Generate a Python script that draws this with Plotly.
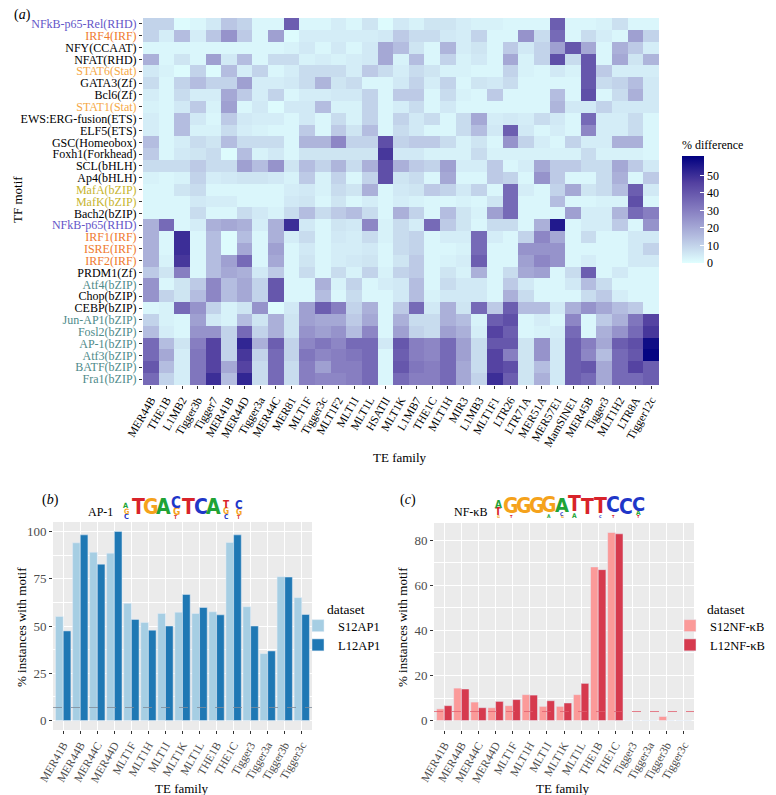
import plotly.graph_objects as go

# ---- data -------------------------------------------------------------
te_families = ["MER44B", "THE1B", "L1MB2", "Tigger3b", "Tigger7", "MER41B", "MER44D",
               "Tigger3a", "MER44C", "MER81", "MLT1F", "Tigger3c", "MLT1F2", "MLT1I",
               "MLT1L", "HSATII", "MLT1K", "L1MB7", "THE1C", "MLT1H", "MIR3", "L1MB3",
               "MLT1F1", "LTR26", "LTR71A", "MER51A", "MER57E1", "MamSINE1", "MER45B",
               "Tigger3", "MLT1H2", "LTR8A", "Tigger12c"]

tf_motifs = ["NFkB-p65-Rel(RHD)", "IRF4(IRF)", "NFY(CCAAT)", "NFAT(RHD)", "STAT6(Stat)",
             "GATA3(Zf)", "Bcl6(Zf)", "STAT1(Stat)", "EWS:ERG-fusion(ETS)", "ELF5(ETS)",
             "GSC(Homeobox)", "Foxh1(Forkhead)", "SCL(bHLH)", "Ap4(bHLH)", "MafA(bZIP)",
             "MafK(bZIP)", "Bach2(bZIP)", "NFkB-p65(RHD)", "IRF1(IRF)", "ISRE(IRF)",
             "IRF2(IRF)", "PRDM1(Zf)", "Atf4(bZIP)", "Chop(bZIP)", "CEBP(bZIP)",
             "Jun-AP1(bZIP)", "Fosl2(bZIP)", "AP-1(bZIP)", "Atf3(bZIP)", "BATF(bZIP)",
             "Fra1(bZIP)"]

motif_group = ["rhd", "irf", "", "", "stat", "", "", "stat", "", "", "", "", "", "", "maf",
               "maf", "", "rhd", "irf", "irf", "irf", "", "ap1", "", "", "ap1", "ap1", "ap1",
               "ap1", "ap1", "ap1"]

pct_diff = [
    [10, 10, 1, 2, 5, 13, 10, 2, 2, 38, 2, 2, 4, 2, 6, 1, 5, 3, 6, 6, 4, 3, 3, 2, 2, 2, 38, 2, 2, 3, 7, 2, 2],
    [10, 4, 15, 4, 13, 25, 12, 2, 22, 1, 4, 4, 4, 4, 4, 5, 12, 8, 8, 5, 4, 10, 2, 2, 25, 8, 35, 2, 8, 4, 2, 22, 10],
    [2, 2, 2, 2, 2, 2, 2, 2, 2, 3, 5, 2, 5, 2, 5, 20, 15, 6, 2, 17, 4, 6, 2, 12, 5, 10, 22, 40, 20, 2, 18, 12, 4],
    [18, 2, 6, 2, 22, 5, 15, 2, 8, 8, 3, 4, 3, 4, 5, 20, 3, 15, 2, 10, 3, 5, 2, 20, 3, 10, 42, 8, 40, 2, 20, 6, 17],
    [5, 3, 1, 10, 1, 15, 4, 10, 2, 4, 8, 8, 8, 4, 12, 8, 4, 8, 6, 3, 3, 2, 2, 10, 3, 2, 5, 3, 40, 12, 4, 4, 4],
    [8, 2, 10, 15, 10, 10, 22, 4, 4, 5, 8, 17, 6, 8, 2, 2, 5, 10, 4, 10, 2, 6, 5, 8, 2, 2, 2, 2, 40, 8, 10, 15, 5],
    [4, 2, 8, 4, 4, 20, 12, 4, 10, 2, 4, 4, 5, 5, 10, 2, 12, 12, 2, 8, 3, 2, 12, 2, 2, 2, 15, 2, 42, 2, 8, 18, 5],
    [3, 2, 5, 12, 3, 22, 2, 5, 1, 5, 5, 15, 3, 3, 10, 2, 4, 8, 2, 5, 2, 2, 2, 2, 2, 2, 17, 5, 5, 10, 5, 5, 5],
    [4, 2, 15, 5, 2, 12, 5, 4, 4, 2, 5, 2, 8, 3, 10, 2, 10, 5, 8, 2, 8, 20, 4, 5, 4, 8, 5, 2, 35, 4, 4, 8, 2],
    [4, 2, 15, 3, 3, 8, 4, 3, 2, 2, 12, 2, 12, 6, 15, 2, 8, 5, 2, 2, 8, 15, 5, 38, 5, 2, 4, 2, 28, 4, 4, 8, 2],
    [15, 2, 4, 8, 6, 15, 8, 8, 8, 2, 17, 17, 28, 10, 10, 42, 10, 12, 12, 8, 3, 6, 2, 25, 10, 4, 2, 10, 4, 4, 18, 18, 2],
    [12, 2, 5, 6, 8, 1, 15, 3, 5, 2, 6, 6, 6, 6, 6, 48, 5, 5, 3, 3, 3, 8, 3, 3, 3, 3, 3, 3, 8, 3, 3, 3, 2],
    [8, 8, 8, 12, 8, 8, 22, 15, 25, 6, 15, 10, 17, 8, 18, 42, 18, 12, 10, 22, 4, 4, 12, 2, 4, 20, 12, 12, 8, 8, 20, 12, 5],
    [3, 2, 3, 10, 4, 5, 6, 6, 5, 3, 12, 3, 10, 2, 10, 42, 6, 8, 2, 20, 2, 2, 12, 10, 2, 25, 12, 2, 2, 8, 18, 2, 12],
    [2, 2, 6, 8, 2, 2, 2, 2, 2, 4, 5, 3, 8, 6, 18, 2, 5, 6, 12, 10, 5, 10, 2, 35, 4, 2, 10, 20, 6, 8, 15, 38, 5],
    [2, 2, 2, 5, 4, 4, 2, 2, 2, 5, 6, 2, 6, 2, 4, 2, 4, 3, 2, 2, 3, 2, 6, 35, 2, 2, 15, 2, 2, 3, 3, 42, 2],
    [2, 2, 2, 8, 2, 2, 8, 5, 3, 8, 15, 8, 12, 15, 8, 2, 18, 10, 2, 15, 6, 3, 22, 35, 2, 2, 2, 22, 4, 4, 17, 35, 30],
    [18, 35, 2, 4, 18, 20, 18, 4, 18, 50, 5, 2, 6, 5, 28, 3, 8, 4, 35, 12, 6, 2, 8, 8, 2, 18, 55, 2, 4, 4, 12, 2, 25],
    [18, 2, 50, 2, 15, 1, 15, 2, 18, 4, 8, 2, 5, 4, 8, 3, 8, 10, 2, 4, 4, 35, 4, 2, 10, 28, 20, 2, 8, 2, 2, 5, 5],
    [18, 2, 50, 2, 15, 1, 20, 2, 22, 2, 5, 2, 4, 4, 5, 2, 8, 10, 2, 2, 3, 35, 2, 2, 25, 25, 25, 2, 2, 2, 2, 5, 10],
    [18, 3, 48, 2, 15, 22, 35, 2, 20, 2, 6, 2, 4, 5, 6, 2, 6, 12, 2, 3, 4, 38, 2, 2, 22, 28, 25, 2, 4, 2, 2, 5, 5],
    [12, 6, 30, 2, 15, 20, 18, 5, 12, 2, 8, 2, 8, 3, 10, 3, 10, 12, 2, 6, 3, 18, 2, 8, 20, 22, 2, 8, 38, 2, 5, 2, 2],
    [25, 2, 6, 12, 28, 15, 20, 10, 40, 2, 2, 18, 3, 10, 2, 4, 5, 15, 2, 8, 5, 5, 2, 12, 5, 2, 2, 5, 15, 8, 2, 2, 2],
    [25, 10, 6, 15, 28, 15, 20, 10, 40, 2, 2, 15, 2, 8, 2, 2, 5, 15, 3, 5, 5, 5, 2, 18, 8, 2, 2, 2, 8, 12, 4, 2, 2],
    [2, 3, 35, 25, 10, 3, 6, 25, 1, 5, 22, 38, 30, 10, 18, 2, 12, 35, 5, 18, 6, 35, 12, 38, 15, 15, 5, 18, 25, 20, 15, 12, 2],
    [10, 3, 2, 22, 5, 3, 15, 6, 18, 6, 22, 20, 20, 12, 20, 2, 18, 8, 8, 18, 15, 3, 38, 42, 2, 4, 2, 28, 2, 12, 18, 32, 45],
    [15, 4, 2, 25, 25, 10, 35, 10, 18, 6, 25, 22, 25, 15, 28, 2, 22, 10, 8, 22, 18, 4, 45, 38, 2, 3, 4, 35, 2, 18, 25, 35, 48],
    [35, 15, 6, 30, 45, 10, 52, 18, 38, 10, 28, 32, 28, 35, 35, 5, 40, 30, 28, 35, 22, 8, 40, 40, 6, 25, 5, 38, 30, 20, 38, 42, 58],
    [35, 20, 4, 32, 45, 10, 48, 10, 35, 10, 32, 28, 30, 32, 35, 2, 38, 30, 28, 35, 22, 8, 45, 30, 6, 25, 5, 38, 28, 15, 35, 40, 60],
    [40, 15, 4, 32, 45, 20, 45, 8, 35, 8, 30, 22, 30, 30, 35, 2, 40, 32, 30, 35, 20, 8, 45, 42, 6, 15, 5, 38, 40, 20, 35, 45, 38],
    [35, 10, 4, 32, 50, 15, 52, 8, 35, 8, 30, 28, 28, 30, 35, 2, 35, 30, 30, 35, 20, 10, 50, 38, 6, 18, 5, 38, 35, 20, 35, 35, 38],
]

bar_families = ["MER41B", "MER44B", "MER44C", "MER44D", "MLT1F", "MLT1H", "MLT1I", "MLT1K",
                "MLT1L", "THE1B", "THE1C", "Tigger3", "Tigger3a", "Tigger3b", "Tigger3c"]
s12_ap1 = [55.0, 94.0, 89.0, 88.5, 62.0, 51.9, 56.6, 57.3, 56.6, 57.5, 94.2, 60.2, 35.4, 76.1, 65.0]
l12_ap1 = [47.4, 98.2, 82.7, 100.0, 53.5, 47.8, 50.0, 66.7, 59.8, 55.9, 98.2, 50.0, 36.8, 75.9, 56.1]
s12_nfkb = [5.2, 14.4, 8.2, 5.7, 6.6, 11.5, 6.3, 6.3, 11.5, 68.2, 83.5, 0, 0, 1.8, 0]
l12_nfkb = [6.6, 14.0, 5.7, 8.5, 9.3, 11.3, 8.8, 7.8, 16.5, 67.0, 82.9, 0, 0, 0, 0]
ap1_background = 6.9
nfkb_background = 4.0

# sequence logos: stacks from top to bottom, (letter, relative height)
ap1_logo = [[("A", 0.22), ("G", 0.22), ("C", 0.22)], [("T", 1.0)], [("G", 1.0)], [("A", 1.0)],
            [("C", 0.45), ("G", 0.3), ("T", 0.15)], [("T", 1.0)], [("C", 1.0)], [("A", 1.0)],
            [("T", 0.3), ("G", 0.25), ("C", 0.2)], [("C", 0.35), ("G", 0.25), ("T", 0.15)]]
nfkb_logo = [[("A", 0.3), ("T", 0.3), ("G", 0.12)], [("G", 0.75), ("T", 0.12)], [("G", 1.0)],
             [("G", 1.0)], [("G", 0.75), ("A", 0.15)], [("A", 0.6), ("C", 0.15), ("G", 0.1)],
             [("T", 0.75), ("A", 0.2)], [("T", 0.95)], [("T", 0.8), ("C", 0.12)],
             [("C", 0.85), ("T", 0.1)], [("C", 0.9)], [("C", 0.6), ("A", 0.2), ("T", 0.1)]]

# ---- styling ----------------------------------------------------------
# the page body keeps its default 8px margin, so the figure is shifted by 8px
OFF = 8
W, H = 776 - OFF, 795 - OFF
SERIF = "Liberation Serif"
group_colors = {"rhd": "#6355C8", "irf": "#EF7A2E", "stat": "#F5A846", "maf": "#C6B42E",
                "ap1": "#4E8A8A", "": "#000000"}
base_colors = {"A": "#21A336", "C": "#1F37C8", "G": "#F5A21B", "T": "#D8232A"}


def px(x):
    return (x - OFF) / W


def py(y):
    return 1 - (y - OFF) / H


ticktext = ["<span style='color:%s'>%s</span>" % (group_colors[g], m)
            for m, g in zip(tf_motifs, motif_group)]

fig = go.Figure()

fig.add_trace(go.Heatmap(
    z=pct_diff, x=list(range(len(te_families))), y=list(range(len(tf_motifs))),
    zmin=0, zmax=61,
    colorscale=[[0, "#E0FFFF"], [0.25, "#B3BCDF"], [0.5, "#857CC0"], [0.75, "#5340A0"], [1, "#000080"]],
    colorbar=dict(title=dict(text="% difference", side="top", font=dict(size=12, family=SERIF)),
                  x=px(682), xanchor="left", y=py(263), yanchor="bottom",
                  len=126, lenmode="pixels", thickness=22, xpad=0, ypad=0,
                  tickvals=[0, 10, 20, 30, 40, 50], ticks="inside", ticklen=4,
                  tickcolor="white", outlinewidth=0, tickfont=dict(size=12, family=SERIF)),
    xaxis="x", yaxis="y", hoverinfo="skip"))

# bar panels
fig.add_trace(go.Bar(x=bar_families, y=s12_ap1, name="S12AP1", marker_color="#A6CEE3",
                     xaxis="x2", yaxis="y2", legend="legend"))
fig.add_trace(go.Bar(x=bar_families, y=l12_ap1, name="L12AP1", marker_color="#1F78B4",
                     xaxis="x2", yaxis="y2", legend="legend"))
fig.add_trace(go.Bar(x=bar_families, y=s12_nfkb, name="S12NF-κB", marker_color="#FB9A99",
                     xaxis="x3", yaxis="y3", legend="legend2"))
fig.add_trace(go.Bar(x=bar_families, y=l12_nfkb, name="L12NF-κB", marker_color="#D63A4E",
                     xaxis="x3", yaxis="y3", legend="legend2"))

tick_font = dict(size=11.5, family=SERIF, color="#4D4D4D")
bar_x = dict(type="category", range=[-0.6, 14.6], tickangle=-60, ticks="outside", ticklen=3,
             tickcolor="#333333", showgrid=True, gridcolor="white", gridwidth=1.1,
             tickfont=tick_font, zeroline=False)
bar_y = dict(ticks="outside", ticklen=3, tickcolor="#333333", showgrid=True, gridcolor="white",
             gridwidth=1.1, zeroline=False, tickfont=dict(size=13, family=SERIF, color="#4D4D4D"),
             minor=dict(showgrid=True, gridcolor="white", gridwidth=0.5))

legend_style = dict(xanchor="left", yanchor="top", bgcolor="rgba(0,0,0,0)",
                    font=dict(size=12.5), tracegroupgap=0)

fig.update_layout(
    width=W, height=H, margin=dict(l=0, r=0, t=0, b=0, autoexpand=False),
    paper_bgcolor="white", plot_bgcolor="#EBEBEB",
    font=dict(family=SERIF, size=12, color="#000000"),
    barmode="group", bargap=0.1, bargroupgap=0,
    xaxis=dict(domain=[px(143), px(659)], range=[-0.5, len(te_families) - 0.5],
               tickvals=list(range(len(te_families))), ticktext=te_families, tickangle=-60,
               ticks="outside", ticklen=3, tickcolor="#333333", showgrid=False, zeroline=False,
               tickfont=dict(size=11.5, family=SERIF, color="#000000")),
    yaxis=dict(domain=[py(385), py(18)], range=[len(tf_motifs) - 0.5, -0.5],
               tickvals=list(range(len(tf_motifs))), ticktext=ticktext,
               ticks="outside", ticklen=3, tickcolor="#333333", showgrid=False, zeroline=False,
               tickfont=dict(size=12, family=SERIF)),
    xaxis2=dict(domain=[px(53), px(312)], anchor="y2", **bar_x),
    yaxis2=dict(domain=[py(730), py(522)], anchor="x2", range=[-5, 105],
                tickvals=[0, 25, 50, 75, 100], **bar_y),
    xaxis3=dict(domain=[px(434), px(694)], anchor="y3", **bar_x),
    yaxis3=dict(domain=[py(730), py(523)], anchor="x3", range=[-4.2, 87.7],
                tickvals=[0, 20, 40, 60, 80], **bar_y),
    legend=dict(x=px(298), y=py(611), **legend_style),
    legend2=dict(x=px(670), y=py(611), **legend_style),
    yaxis2_minor_dtick=12.5, yaxis3_minor_dtick=10,
)

# motif background lines
fig.add_shape(type="line", xref="x2 domain", yref="y2", x0=0, x1=1, y0=ap1_background,
              y1=ap1_background, line=dict(color="#7F8C99", width=0.8, dash="dash"))
fig.add_shape(type="line", xref="x3 domain", yref="y3", x0=0, x1=1, y0=nfkb_background,
              y1=nfkb_background, line=dict(color="#E0606E", width=0.8, dash="dash"))

annots = [
    ("(<i>a</i>)", 12, 15, 14, "left", 0),
    ("TF motif", 17, 200, 13, "center", -90),
    ("TE family", 400, 458, 13, "center", 0),
    ("(<i>b</i>)", 40, 500, 14, "left", 0),
    ("(<i>c</i>)", 398, 500, 14, "left", 0),
    ("AP-1", 100, 512, 12, "center", 0),
    ("NF-κB", 470, 512, 12, "center", 0),
    ("% instances with motif", 21, 627, 13, "center", -90),
    ("% instances with motif", 402, 627, 13, "center", -90),
    ("TE family", 182, 788, 13, "center", 0),
    ("TE family", 563, 788, 13, "center", 0),
    ("dataset", 325, 609, 13.5, "left", 0),
    ("dataset", 705, 609, 13.5, "left", 0),
]
for text, x, y, size, anchor, angle in annots:
    fig.add_annotation(text=text, x=px(x), y=py(y), xref="paper", yref="paper",
                       xanchor=anchor if angle == 0 else "center", yanchor="middle",
                       textangle=angle, showarrow=False, font=dict(size=size, family=SERIF))


def draw_logo(logo, x0, step, base, full):
    for i, stack in enumerate(logo):
        cx = x0 + step * (i + 0.5)
        cum = 0
        for letter, h in reversed(stack):
            hp = h * full
            size = min(max(hp / 0.72, 4), 21)
            fig.add_annotation(text="<b>%s</b>" % letter, x=px(cx), y=py(base - cum - hp / 2),
                               xref="paper", yref="paper", xanchor="center", yanchor="middle",
                               showarrow=False,
                               font=dict(size=size, family="DejaVu Sans Condensed, Liberation Sans",
                                         color=base_colors[letter]))
            cum += hp


draw_logo(ap1_logo, 120, 12.5, 519, 24)
draw_logo(nfkb_logo, 492, 12.75, 518, 24)

fig.write_html("out.html")
